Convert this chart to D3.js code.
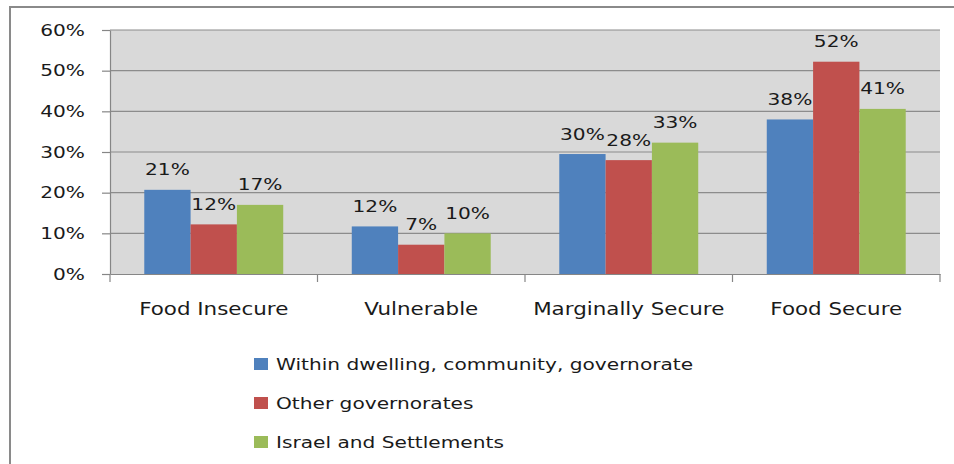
<!DOCTYPE html>
<html>
<head>
<meta charset="utf-8">
<script src="https://cdn.jsdelivr.net/npm/d3@7"></script>
<style>
  body { margin: 0; background: #fff; }
  text { font-family: "DejaVu Sans", sans-serif; }
</style>
</head>
<body>
<svg id="chart"></svg>
<script>
// data
const categories = ["Food Insecure", "Vulnerable", "Marginally Secure", "Food Secure"]
const seriesNames = ["Within dwelling, community, governorate", "Other governorates", "Israel and Settlements"]
const withinValues = [20.7, 11.7, 29.5, 38.0]
const otherGovValues = [12.2, 7.2, 28.0, 52.2]
const israelValues = [17.0, 10.0, 32.3, 40.6]
const withinLabels = ["21%", "12%", "30%", "38%"]
const otherGovLabels = ["12%", "7%", "28%", "52%"]
const israelLabels = ["17%", "10%", "33%", "41%"]
const yTicks = [0, 10, 20, 30, 40, 50, 60]
const colors = ["#4f81bd", "#c0504d", "#9bbb59"]

const width = 954, height = 464
const sx = 1.26   // text in the picture is stretched sideways
const fontSize = 16
const plot = { left: 110, right: 940, top: 30, bottom: 274 }

const svg = d3.select("#chart").attr("width", width).attr("height", height)

// outer frame (left and top edge only are visible)
svg.append("path")
  .attr("d", `M10,${height} L10,7 L${width},7`)
  .attr("fill", "none").attr("stroke", "#8a8a8a").attr("stroke-width", 2)

const x0 = d3.scaleBand().domain(categories).range([plot.left, plot.right])
const x1 = d3.scaleBand().domain(seriesNames).range([0, x0.bandwidth()])
  .paddingInner(0).paddingOuter(0.74)
const y = d3.scaleLinear().domain([0, 60]).range([plot.bottom, plot.top])

// plot area
svg.append("rect")
  .attr("x", plot.left).attr("y", plot.top)
  .attr("width", plot.right - plot.left).attr("height", plot.bottom - plot.top)
  .attr("fill", "#d9d9d9")

svg.append("g").selectAll("line")
  .data(yTicks.filter(d => d > 0))
  .join("line")
  .attr("x1", plot.left).attr("x2", plot.right)
  .attr("y1", d => y(d)).attr("y2", d => y(d))
  .attr("stroke", "#8c8c8c").attr("stroke-width", 1.2)

// bars
const table = seriesNames.map((name, i) => ({
  name,
  color: colors[i],
  values: [withinValues, otherGovValues, israelValues][i],
  labels: [withinLabels, otherGovLabels, israelLabels][i]
}))

const groups = svg.append("g").selectAll("g")
  .data(table)
  .join("g")
  .attr("fill", d => d.color)

groups.selectAll("rect")
  .data(s => categories.map((c, j) => ({ c, s: s.name, v: s.values[j] })))
  .join("rect")
  .attr("x", d => x0(d.c) + x1(d.s))
  .attr("y", d => y(d.v))
  .attr("width", x1.bandwidth())
  .attr("height", d => y(0) - y(d.v))

// value labels
svg.append("g").selectAll("text")
  .data(table.flatMap(s => categories.map((c, j) => ({ c, s: s.name, v: s.values[j], t: s.labels[j] }))))
  .join("text")
  .attr("transform", d => `translate(${x0(d.c) + x1(d.s) + x1.bandwidth() / 2},${y(d.v) - 14.5}) scale(${sx},1)`)
  .attr("text-anchor", "middle")
  .attr("font-size", fontSize)
  .attr("fill", "#1a1a1a")
  .text(d => d.t)

// y axis
const yAxis = svg.append("g")
  .attr("transform", `translate(${plot.left},0)`)
  .call(d3.axisLeft(y).tickValues(yTicks).tickFormat(d => d + "%").tickSize(8).tickSizeOuter(0))
yAxis.select(".domain").attr("stroke", "#868686").attr("stroke-width", 1.2)
yAxis.selectAll(".tick line").attr("stroke", "#868686").attr("stroke-width", 1.2)
yAxis.selectAll(".tick text")
  .attr("x", -25 / sx)
  .attr("transform", `scale(${sx},1)`)
  .attr("font-size", fontSize)
  .attr("font-family", "DejaVu Sans")
  .attr("fill", "#1a1a1a")

// x axis
const xAxis = svg.append("g")
  .attr("transform", `translate(0,${plot.bottom})`)
  .call(d3.axisBottom(x0).tickSize(0).tickPadding(0))
xAxis.select(".domain").attr("stroke", "#868686").attr("stroke-width", 1.2)
xAxis.selectAll(".tick text")
  .attr("y", 41).attr("dy", null)
  .attr("transform", `scale(${sx},1)`)
  .attr("font-size", 17)
  .attr("font-family", "DejaVu Sans")
  .attr("fill", "#1a1a1a")

// category separators below the axis
const bounds = categories.map(c => x0(c)).concat([plot.right])
svg.append("g").selectAll("line")
  .data(bounds)
  .join("line")
  .attr("x1", d => d).attr("x2", d => d)
  .attr("y1", plot.bottom).attr("y2", plot.bottom + 8)
  .attr("stroke", "#868686").attr("stroke-width", 1.2)

// legend
const legend = svg.append("g").selectAll("g")
  .data(table)
  .join("g")
  .attr("transform", (d, i) => `translate(254,${370 + i * 39})`)
legend.append("rect")
  .attr("x", 0).attr("y", -12)
  .attr("width", 14).attr("height", 12)
  .attr("fill", d => d.color)
legend.append("text")
  .attr("transform", `translate(22,0) scale(${sx},1)`)
  .attr("font-size", fontSize)
  .attr("fill", "#1a1a1a")
  .text(d => d.name)
</script>
</body>
</html>
